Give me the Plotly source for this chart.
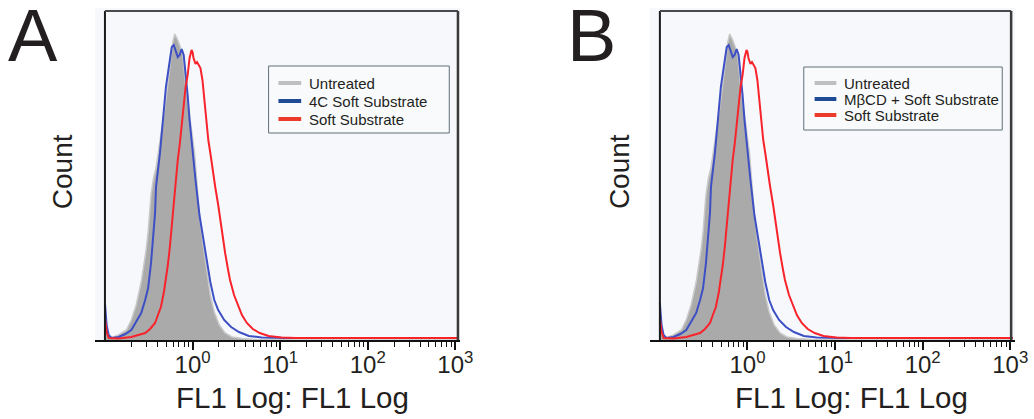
import numpy as np
import plotly.graph_objects as go

W, H = 1034, 419
FONT = "Liberation Sans, Arial, Helvetica, sans-serif"

# ---------------- data (log10 FL1 intensity, count) ----------------
panel_labels = ["A", "B"]
legend_names_a = ["Untreated", "4C Soft Substrate", "Soft Substrate"]
legend_names_b = ["Untreated", "M\u03b2CD + Soft Substrate", "Soft Substrate"]
x_title = "FL1 Log: FL1 Log"
y_title = "Count"
tick_vals = [0, 1, 2, 3]
tick_text = ["10<sup>0</sup>", "10<sup>1</sup>", "10<sup>2</sup>", "10<sup>3</sup>"]

untreated_log = [-1.0, -0.97, -0.936, -0.846, -0.755, -0.699, -0.643, -0.586, -0.53, -0.507,
                 -0.474, -0.445, -0.417, -0.361, -0.304, -0.259, -0.225, -0.203, -0.169, -0.135,
                 -0.113, -0.079, -0.023, 0.023, 0.056, 0.079, 0.113, 0.158, 0.203, 0.248,
                 0.305, 0.372, 0.451, 0.564, 0.733, 1.184, 3.03]
untreated_count = [25, 5, 2, 5, 10, 20, 35, 58, 90, 108,
                   145, 162, 172, 205, 240, 272, 298, 306, 300, 292,
                   285, 255, 220, 187, 150, 125, 100, 70, 45, 28,
                   15, 7, 3, 1.5, 0.5, 0, 0]

treated_log = [-1.0, -0.981, -0.958, -0.924, -0.846, -0.767, -0.699, -0.643, -0.586, -0.541,
               -0.507, -0.474, -0.451, -0.428, -0.417, -0.372, -0.338, -0.304, -0.259, -0.237,
               -0.214, -0.192, -0.169, -0.147, -0.124, -0.101, -0.079, -0.056, -0.034, 0.0,
               0.034, 0.079, 0.135, 0.169, 0.203, 0.248, 0.293, 0.361, 0.44, 0.53,
               0.643, 0.79, 1.07, 1.75, 3.03]
treated_count = [37, 15, 5, 2, 3, 6, 10, 18, 27, 40,
                 52, 77, 103, 127, 153, 187, 220, 253, 280, 293,
                 295, 290, 283, 285, 291, 285, 267, 245, 220, 187,
                 160, 125, 93, 75, 58, 40, 30, 20, 13, 8,
                 4, 2.5, 2, 2, 2]

soft_log = [-1.0, -0.981, -0.958, -0.924, -0.846, -0.699, -0.62, -0.541, -0.485, -0.428,
            -0.395, -0.361, -0.327, -0.304, -0.282, -0.259, -0.225, -0.192, -0.169, -0.147,
            -0.124, -0.101, -0.079, -0.056, -0.034, -0.011, 0.0, 0.011, 0.034, 0.051,
            0.068, 0.09, 0.113, 0.135, 0.158, 0.18, 0.203, 0.237, 0.259, 0.293,
            0.316, 0.349, 0.372, 0.406, 0.428, 0.474, 0.507, 0.564, 0.62, 0.688,
            0.767, 0.868, 1.015, 1.184, 3.03]
soft_count = [22, 8, 2, 2, 1.5, 3, 5, 7, 11, 17,
              25, 33, 48, 60, 75, 93, 127, 158, 180, 195,
              215, 238, 253, 265, 282, 290, 288, 282, 276, 278,
              275, 272, 260, 240, 220, 200, 187, 165, 153, 135,
              120, 100, 87, 70, 60, 45, 37, 25, 17, 11,
              7, 4, 2.5, 2, 2]

# ---------------- styles ----------------
PLOT_BG = "#f6f8fb"
GRAY_FILL = "#aaaaaa"
GRAY_EDGE = "#c9c9c9"
BLUE = "#3d4fc4"
RED = "#f8232b"
LEG_GRAY = "#bfbfbf"
LEG_BLUE = "#1f4b96"
LEG_RED = "#ec3b2b"
TXT = "#231f20"


def fx(px):
    return px / W


def fy(py):
    return 1 - py / H


minor_vals = [float(np.log10(k) + d) for d in range(-1, 3) for k in range(2, 10)]

panels = [
    dict(xa="x", ya="y", dom=(96, 466), right=3.03, names=legend_names_a,
         box=(272, 66, 455, 133), sample=(282, 305), text_x=311, rows=(83, 101, 119),
         label_x=33, count_x=63, title_x=296),
    dict(xa="x2", ya="y2", dom=(658, 1028), right=3.01, names=legend_names_b,
         box=(814, 67, 1015, 130), sample=(825, 847), text_x=853, rows=(83, 99, 115),
         label_x=599, count_x=627, title_x=862),
]

fig = go.Figure()
shapes = []
annotations = []
layout = dict(
    width=W, height=H, margin=dict(l=0, r=0, t=0, b=0),
    paper_bgcolor="white", plot_bgcolor=PLOT_BG,
    font=dict(family=FONT, color=TXT),
    showlegend=False,
)

for i, p in enumerate(panels):
    xa, ya = p["xa"], p["ya"]
    fig.add_trace(go.Scatter(x=untreated_log, y=untreated_count, mode="lines", fill="tozeroy",
                             fillcolor=GRAY_FILL, line=dict(color=GRAY_EDGE, width=1.5),
                             xaxis=xa, yaxis=ya, name=p["names"][0], hoverinfo="skip"))
    fig.add_trace(go.Scatter(x=treated_log, y=treated_count, mode="lines",
                             line=dict(color=BLUE, width=2), xaxis=xa, yaxis=ya,
                             name=p["names"][1], hoverinfo="skip"))
    fig.add_trace(go.Scatter(x=soft_log, y=soft_count, mode="lines",
                             line=dict(color=RED, width=2), xaxis=xa, yaxis=ya,
                             name=p["names"][2], hoverinfo="skip"))

    xkey = "xaxis" if i == 0 else "xaxis2"
    ykey = "yaxis" if i == 0 else "yaxis2"
    layout[xkey] = dict(
        domain=[fx(p["dom"][0]), fx(p["dom"][1])], range=[-1.116, 3.055],
        anchor=ya, tickmode="array", tickvals=tick_vals, ticktext=tick_text,
        ticks="outside", ticklen=8, tickwidth=1.5, tickcolor="#111",
        showline=True, linecolor="#111", linewidth=2,
        showgrid=False, zeroline=False, ticklabelstandoff=-6,
        tickfont=dict(size=24, color=TXT, family=FONT),
        minor=dict(tickmode="array", tickvals=minor_vals, ticks="outside",
                   ticklen=5, tickwidth=1.2, tickcolor="#111", showgrid=False),
    )
    layout[ykey] = dict(
        domain=[fy(340), fy(8)], range=[0, 332], anchor=xa,
        showgrid=False, zeroline=False, showticklabels=False, ticks="", showline=False,
    )
    # plot frame
    shapes += [
        dict(type="line", xref=xa, yref=ya, x0=-1.0, x1=-1.0, y0=0, y1=329,
             line=dict(color="#1a1a1a", width=2)),
        dict(type="line", xref=xa, yref=ya, x0=-1.0, x1=p["right"], y0=329, y1=329,
             line=dict(color="#4a4a4a", width=2)),
        dict(type="line", xref=xa, yref=ya, x0=p["right"], x1=p["right"], y0=0, y1=329,
             line=dict(color="#3a3a3a", width=2.5)),
    ]
    # legend box
    bx0, by0, bx1, by1 = p["box"]
    shapes.append(dict(type="rect", xref="paper", yref="paper",
                       x0=fx(bx0), x1=fx(bx1), y0=fy(by1), y1=fy(by0),
                       fillcolor="#f8fafc", line=dict(color="#607078", width=1)))
    for name, col, row in zip(p["names"], [LEG_GRAY, LEG_BLUE, LEG_RED], p["rows"]):
        shapes.append(dict(type="line", xref="paper", yref="paper",
                           x0=fx(p["sample"][0]), x1=fx(p["sample"][1]), y0=fy(row), y1=fy(row),
                           line=dict(color=col, width=4)))
        annotations.append(dict(text=name, xref="paper", yref="paper", x=fx(p["text_x"]),
                                y=fy(row), xanchor="left", yanchor="middle", showarrow=False,
                                font=dict(size=15, family=FONT, color=TXT)))
    annotations += [
        dict(text=panel_labels[i], xref="paper", yref="paper", x=fx(p["label_x"]), y=fy(35),
             xanchor="center", yanchor="middle", showarrow=False, height=64, valign="middle",
             font=dict(size=74, family=FONT, color=TXT)),
        dict(text=y_title, xref="paper", yref="paper", x=fx(p["count_x"]), y=fy(172),
             xanchor="center", yanchor="middle", textangle=-90, showarrow=False,
             font=dict(size=28, family=FONT, color=TXT)),
        dict(text=x_title, xref="paper", yref="paper", x=fx(p["title_x"]), y=fy(397),
             xanchor="center", yanchor="middle", showarrow=False,
             font=dict(size=29.5, family=FONT, color=TXT)),
    ]

layout["shapes"] = shapes
layout["annotations"] = annotations
fig.update_layout(**layout)
fig.write_html("out.html")
